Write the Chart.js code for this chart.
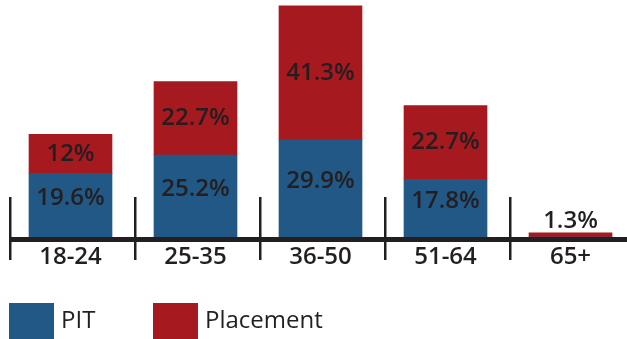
<!DOCTYPE html>
<html>
<head>
<meta charset="utf-8">
<script src="https://cdn.jsdelivr.net/npm/chart.js@4/dist/chart.umd.min.js"></script>
<style>
    html, body { margin: 0; padding: 0; background: #fff; overflow: hidden; }
    canvas { display: block; }
</style>
</head>
<body>
<canvas id="chartAgeGroups" width="640" height="339"></canvas>
<script>
const ageGroups = ['18-24', '25-35', '36-50', '51-64', '65+'];
const pitValues = [19.6, 25.2, 29.9, 17.8, 0];
const placementValues = [12, 22.7, 41.3, 22.7, 1.3];
const seriesNames = ['PIT', 'Placement'];

const INK = '#231f20';
const FONT = '"Open Sans", sans-serif';

// value labels inside each stacked segment (or just above it when it is too thin)
const segmentLabels = {
    id: 'segmentLabels',
    afterDatasetsDraw(chart) {
        const ctx = chart.ctx;
        ctx.save();
        ctx.font = '600 24px ' + FONT;
        ctx.fillStyle = INK;
        ctx.textAlign = 'center';
        ctx.textBaseline = 'middle';
        chart.data.datasets.forEach((ds, di) => {
            const meta = chart.getDatasetMeta(di);
            meta.data.forEach((bar, i) => {
                const v = ds.data[i];
                if (!v) return;
                const { x, y, base } = bar.getProps(['x', 'y', 'base'], true);
                const h = base - y;
                let ty = (y + base) / 2;
                if (h < 30) ty = y - 12;
                else if (di === 0) ty -= 7;
                ctx.fillText(v + '%', x, ty);
            });
        });
        ctx.restore();
    }
};

// thick base line with dividers between the age groups
const baseAxis = {
    id: 'baseAxis',
    afterDraw(chart) {
        const ctx = chart.ctx;
        const area = chart.chartArea;
        const xs = chart.scales.x;
        const step = xs.getPixelForValue(1) - xs.getPixelForValue(0);
        ctx.save();
        ctx.fillStyle = INK;
        ctx.fillRect(area.left + 2, area.bottom, chart.width, 5);
        for (let i = 0; i < ageGroups.length; i++) {
            const dx = Math.round(xs.getPixelForValue(i) - step / 2) + 2;
            ctx.fillRect(dx - 1, area.bottom - 40, 2.5, 63);
        }
        ctx.restore();
    }
};

// legend swatches along the bottom edge
const bottomLegend = {
    id: 'bottomLegend',
    afterDraw(chart) {
        const ctx = chart.ctx;
        const xs = [9, 153];
        ctx.save();
        ctx.font = '400 24px ' + FONT;
        ctx.textBaseline = 'middle';
        ctx.textAlign = 'left';
        chart.data.datasets.forEach((ds, i) => {
            ctx.fillStyle = ds.backgroundColor;
            ctx.fillRect(xs[i], 303, 45, 36);
            ctx.fillStyle = INK;
            ctx.fillText(ds.label, xs[i] + 52, 321);
        });
        ctx.restore();
    }
};

new Chart(document.getElementById('chartAgeGroups'), {
    type: 'bar',
    data: {
        labels: ageGroups,
        datasets: [
            {
                label: seriesNames[0],
                data: pitValues,
                backgroundColor: '#225885',
                barThickness: 83
            },
            {
                label: seriesNames[1],
                data: placementValues,
                backgroundColor: '#a6191f',
                barThickness: 83
            }
        ]
    },
    options: {
        responsive: false,
        animation: false,
        layout: {
            padding: { left: 8, right: 7, top: 0, bottom: 0 }
        },
        plugins: {
            legend: { display: false },
            tooltip: { enabled: false }
        },
        scales: {
            x: {
                stacked: true,
                grid: { display: false },
                border: { display: false },
                afterFit(scale) {
                    scale.height = 102;
                },
                ticks: {
                    padding: -2,
                    color: INK,
                    font: { family: FONT, size: 24, weight: '600' }
                }
            },
            y: {
                stacked: true,
                display: false,
                min: 0,
                max: 73
            }
        }
    },
    plugins: [segmentLabels, baseAxis, bottomLegend]
});
</script>
</body>
</html>
